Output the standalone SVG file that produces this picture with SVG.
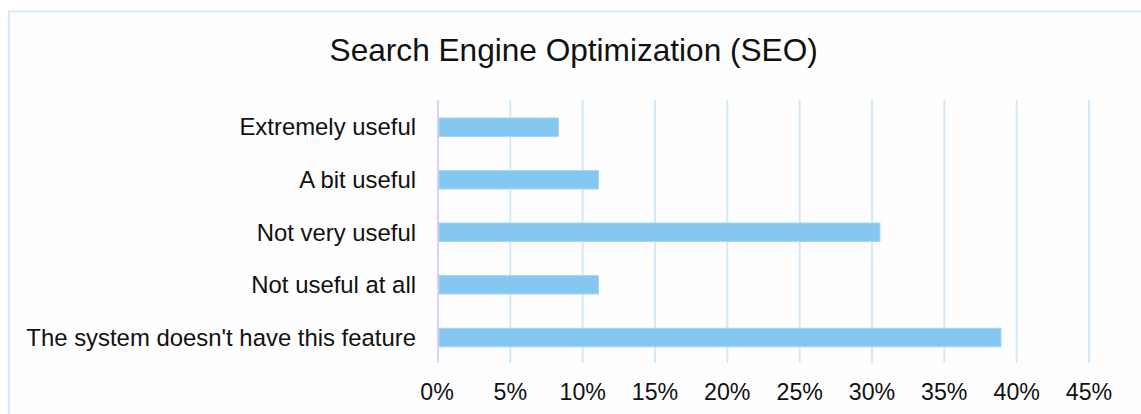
<svg xmlns="http://www.w3.org/2000/svg" width="1141" height="414" viewBox="0 0 1141 414">
  <style>
    text { font-family: "Liberation Sans", Arial, sans-serif; fill: #111; }
    .title { font-size: 31.6px; text-anchor: middle; }
    .cat { font-size: 23.9px; text-anchor: end; }
    .tick { font-size: 23.2px; text-anchor: middle; }
    .grid { stroke: #D3E9F8; stroke-width: 2; }
    .axis { stroke: #E2CCF8; stroke-width: 2; }
    .bar { fill: #84C7F1; stroke: #A6D6F4; stroke-width: 1; }
  </style>
  <rect x="0" y="0" width="1141" height="414" fill="#ffffff"/>
  <!-- chart frame -->
  <rect x="9" y="11.5" width="1150" height="420" fill="#FEFEFE" stroke="#D5EBF9" stroke-width="2"/>
  <text class="title" x="573.7" y="61">Search Engine Optimization (SEO)</text>

  <!-- vertical gridlines, 5% steps -->
  <g id="gridlines">
    <line class="grid" x1="510.3" y1="100" x2="510.3" y2="363"/>
    <line class="grid" x1="582.7" y1="100" x2="582.7" y2="363"/>
    <line class="grid" x1="655" y1="100" x2="655" y2="363"/>
    <line class="grid" x1="727.3" y1="100" x2="727.3" y2="363"/>
    <line class="grid" x1="799.7" y1="100" x2="799.7" y2="363"/>
    <line class="grid" x1="872" y1="100" x2="872" y2="363"/>
    <line class="grid" x1="944.3" y1="100" x2="944.3" y2="363"/>
    <line class="grid" x1="1016.7" y1="100" x2="1016.7" y2="363"/>
    <line class="grid" x1="1089" y1="100" x2="1089" y2="363"/>
  </g>
  <line id="axis" class="axis" x1="438" y1="100" x2="438" y2="363"/>

  <!-- bars -->
  <g id="bar-extremely-useful">
    <rect class="bar" x="439" y="118" width="119.5" height="18.5"/>
    <text class="cat" x="416" y="135">Extremely useful</text>
  </g>
  <g id="bar-a-bit-useful">
    <rect class="bar" x="439" y="170.5" width="159.5" height="18.5"/>
    <text class="cat" x="416" y="188">A bit useful</text>
  </g>
  <g id="bar-not-very-useful">
    <rect class="bar" x="439" y="223" width="441" height="18.5"/>
    <text class="cat" x="416" y="240.5">Not very useful</text>
  </g>
  <g id="bar-not-useful-at-all">
    <rect class="bar" x="439" y="275.5" width="159.5" height="18.5"/>
    <text class="cat" x="416" y="293">Not useful at all</text>
  </g>
  <g id="bar-no-feature">
    <rect class="bar" x="439" y="328.3" width="562" height="18.5"/>
    <text class="cat" x="416" y="345.8">The system doesn't have this feature</text>
  </g>

  <!-- x-axis tick labels -->
  <g id="x-ticks">
    <text class="tick" x="437" y="400">0%</text>
    <text class="tick" x="510.3" y="400">5%</text>
    <text class="tick" x="582.7" y="400">10%</text>
    <text class="tick" x="655" y="400">15%</text>
    <text class="tick" x="727.3" y="400">20%</text>
    <text class="tick" x="799.7" y="400">25%</text>
    <text class="tick" x="872" y="400">30%</text>
    <text class="tick" x="944.3" y="400">35%</text>
    <text class="tick" x="1016.7" y="400">40%</text>
    <text class="tick" x="1089" y="400">45%</text>
  </g>
</svg>
